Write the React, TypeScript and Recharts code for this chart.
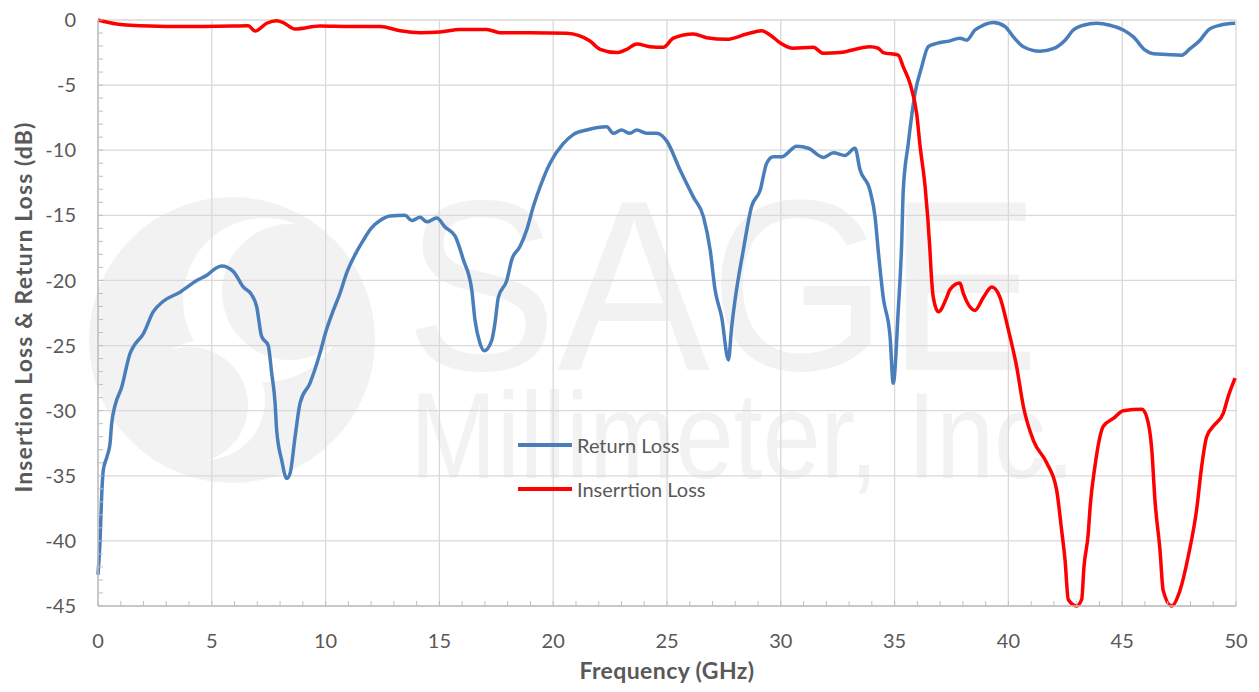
import React from 'react';
import { LineChart, Line, XAxis, YAxis, CartesianGrid, Legend } from 'recharts';

// Return loss (blue)
const returnFreq = [
  0, 0.09, 0.16, 0.23, 0.4, 0.53, 0.6, 0.75, 1.04, 1.41, 1.55, 1.99, 2.43, 2.87, 3.6, 4.34, 4.78, 5.14, 5.43, 5.94,
  6.38, 6.75, 6.97, 7.19, 7.48, 7.63, 7.78, 7.85, 8.07, 8.29, 8.44, 8.66, 8.88, 9.31, 9.75, 10.0, 10.34, 10.63, 10.93,
  11.3, 11.66, 12.0, 12.39, 12.83, 13.49, 13.78, 14.15, 14.44, 14.88, 15.25, 15.69, 16.05, 16.42, 16.56, 16.78, 16.97,
  17.3, 17.44, 17.59, 17.96, 18.18, 18.54, 18.84, 19.13, 19.49, 19.86, 20.44, 20.88, 21.47, 22.35, 22.64, 23.0, 23.37,
  23.67, 24.1, 24.55, 24.99, 25.57, 26.16, 26.6, 26.9, 27.11, 27.4, 27.7, 27.84, 27.99, 28.35, 28.72, 29.09, 29.38,
  29.67, 30.04, 30.7, 31.21, 31.87, 32.31, 32.82, 33.26, 33.48, 33.92, 34.14, 34.28, 34.5, 34.8, 34.94, 35.16, 35.31,
  35.38, 35.6, 35.9, 36.19, 36.48, 36.85, 37.43, 37.87, 38.17, 38.53, 38.9, 39.34, 39.85, 40.22, 40.66, 41.39, 41.97,
  42.49, 42.85, 43.29, 43.88, 44.46, 45.05, 45.49, 46.0, 46.37, 46.95, 47.61, 47.98, 48.42, 48.78, 49.3, 49.96,
];
const returnLoss = [
  -42.6, -40.0, -36.6, -34.6, -33.5, -32.5, -31.0, -29.6, -28.2, -25.6, -25.1, -24.1, -22.4, -21.6, -20.9, -20.0, -19.6,
  -19.1, -18.9, -19.3, -20.5, -21.1, -22.0, -24.3, -25.0, -27.1, -29.4, -31.5, -33.8, -35.2, -34.8, -32.0, -29.4, -27.9,
  -25.6, -24.0, -22.3, -21.0, -19.4, -18.0, -16.9, -16.0, -15.4, -15.05, -15.0, -15.4, -15.15, -15.5, -15.2, -15.9,
  -16.6, -18.4, -20.7, -23.0, -24.8, -25.4, -24.6, -23.3, -21.3, -20.0, -18.4, -17.4, -16.1, -14.3, -12.5, -11.0, -9.5,
  -8.8, -8.45, -8.2, -8.7, -8.45, -8.7, -8.45, -8.7, -8.7, -9.3, -11.5, -13.6, -15.1, -17.7, -20.7, -22.8, -26.1, -23.6,
  -21.5, -17.7, -14.3, -13.1, -11.0, -10.5, -10.5, -9.7, -9.85, -10.55, -10.2, -10.4, -9.85, -11.5, -13.1, -15.1, -17.7,
  -21.3, -24.3, -27.9, -22.3, -17.2, -13.1, -9.5, -5.6, -3.6, -2.05, -1.8, -1.6, -1.4, -1.55, -0.77, -0.4, -0.2, -0.5,
  -1.3, -2.05, -2.4, -2.2, -1.55, -0.77, -0.4, -0.25, -0.4, -0.77, -1.3, -2.3, -2.6, -2.65, -2.7, -2.2, -1.55, -0.77,
  -0.4, -0.25,
];

// Insertion loss (red)
const insertFreq = [
  0, 0.82, 2.28, 3.75, 5.94, 6.6, 6.9, 7.41, 7.85, 8.14, 8.66, 9.75, 11.07, 12.39, 13.27, 14.15, 15.03, 15.9, 17.08,
  17.66, 18.98, 20.59, 21.6, 22.06, 22.79, 23.23, 23.67, 24.25, 24.84, 25.28, 26.16, 26.74, 27.62, 28.5, 29.16, 29.53,
  29.96, 30.55, 31.43, 31.87, 32.6, 33.92, 34.28, 34.5, 35.16, 35.38, 35.68, 35.97, 36.12, 36.34, 36.55, 36.6, 36.7,
  36.92, 37.29, 37.43, 37.87, 38.02, 38.53, 38.9, 39.27, 39.63, 40.0, 40.36, 40.66, 41.1, 41.68, 42.12, 42.34, 42.49,
  42.63, 43.0, 43.22, 43.32, 43.51, 43.59, 43.8, 44.17, 44.61, 45.05, 45.86, 46.08, 46.3, 46.44, 46.66, 46.8, 47.17,
  47.54, 47.9, 48.27, 48.49, 48.71, 49.0, 49.44, 49.66, 49.96,
];
const insertLoss = [
  0, -0.3, -0.46, -0.5, -0.46, -0.44, -0.85, -0.25, -0.05, -0.2, -0.69, -0.46, -0.5, -0.5, -0.82, -0.97, -0.92, -0.72,
  -0.72, -0.97, -0.97, -1.02, -1.6, -2.25, -2.5, -2.25, -1.84, -2.05, -2.1, -1.4, -1.08, -1.36, -1.48, -1.08, -0.82,
  -1.15, -1.74, -2.17, -2.1, -2.56, -2.5, -2.05, -2.17, -2.5, -2.7, -3.6, -4.9, -7.2, -9.7, -12.8, -17.6, -19.2, -21.3,
  -22.4, -21.3, -20.7, -20.2, -21.0, -22.3, -21.3, -20.5, -21.3, -23.8, -26.6, -29.7, -32.3, -34.0, -36.1, -39.2, -41.5,
  -44.5, -45.0, -44.5, -42.0, -39.4, -37.4, -34.3, -31.2, -30.6, -30.0, -29.9, -30.5, -33.0, -36.9, -40.7, -43.8,
  -45.0, -43.8, -41.2, -37.6, -34.3, -32.0, -31.2, -30.2, -28.9, -27.5,
];

const xMajorTicks = [0, 5, 10, 15, 20, 25, 30, 35, 40, 45, 50];
const yMajorTicks = [-45, -40, -35, -30, -25, -20, -15, -10, -5, 0];
// minor tick marks every 1 GHz / 1 dB
const xMinorTicks = Array.from({ length: 51 }, (_, i) => i);
const yMinorTicks = Array.from({ length: 46 }, (_, i) => i - 45);

const returnData = returnFreq.map((f, i) => ({ f, v: returnLoss[i] }));
const insertData = insertFreq.map((f, i) => ({ f, v: insertLoss[i] }));

const TEXT = '#595959';
const FONT = 'Lato, "Open Sans", sans-serif';

const majorOnly = (v: number) => (v % 5 === 0 ? String(v) : '');

const legendItems = [
  { name: 'Return Loss', color: '#4a7ebb' },
  { name: 'Inserrtion Loss', color: '#ff0000' },
];

const LegendBox = () => (
  <div>
    {legendItems.map((it) => (
      <div key={it.name} style={{ display: 'flex', alignItems: 'center', height: 44 }}>
        <div style={{ width: 54, height: 4, background: it.color, marginRight: 5 }} />
        <span style={{ fontFamily: FONT, fontSize: 20, color: TEXT }}>{it.name}</span>
      </div>
    ))}
  </div>
);

// faint company logo behind the plot
const Watermark = () => (
  <svg width={1259} height={692} style={{ position: 'absolute', left: 0, top: 0 }}>
    <circle cx={232} cy={340} r={143} fill="#f2f2f2" />
    <circle cx={265} cy={300} r={82} fill="#ffffff" />
    <circle cx={290} cy={292} r={68} fill="#f2f2f2" />
    <circle cx={205} cy={400} r={60} fill="#ffffff" />
    <circle cx={190} cy={405} r={58} fill="#f2f2f2" />
    <text x={405} y={370} fontSize={244} fontFamily="Liberation Sans, Arial" fill="#f2f2f2"
      textLength={635} lengthAdjust="spacingAndGlyphs">SAGE</text>
    <text x={410} y={478} fontSize={123} fontFamily="Liberation Sans, Arial" fill="#f2f2f2"
      textLength={665} lengthAdjust="spacingAndGlyphs">Millimeter, Inc.</text>
  </svg>
);

export default function App() {
  return (
    <div style={{ position: 'absolute', left: 0, top: 0, width: 1259, height: 692, background: '#fff' }}>
      <Watermark />
      <div style={{ position: 'absolute', left: 0, top: 0 }}>
        <LineChart width={1259} height={692} margin={{ top: 20, right: 23, bottom: 0, left: 0 }}>
          <CartesianGrid
            stroke="#d9d9d9"
            strokeWidth={1.3}
            verticalValues={xMajorTicks}
            horizontalValues={yMajorTicks}
          />
          <XAxis
            dataKey="f"
            type="number"
            domain={[0, 50]}
            ticks={xMinorTicks}
            interval={0}
            height={86}
            tickFormatter={majorOnly}
            tickSize={-5}
            tickMargin={33}
            tickLine={{ stroke: '#bfbfbf' }}
            axisLine={{ stroke: '#bfbfbf', strokeWidth: 1.5 }}
            tick={{ fill: TEXT, fontSize: 20, fontFamily: FONT }}
            label={{ value: 'Frequency (GHz)', position: 'center', dy: 22, fill: TEXT, fontSize: 23, fontWeight: 'bold', fontFamily: FONT, letterSpacing: 0.4 }}
          />
          <YAxis
            type="number"
            domain={[-45, 0]}
            ticks={yMinorTicks}
            interval={0}
            width={98}
            tickFormatter={majorOnly}
            tickSize={-5}
            tickMargin={27}
            tickLine={{ stroke: '#bfbfbf' }}
            axisLine={{ stroke: '#bfbfbf', strokeWidth: 1.5 }}
            tick={{ fill: TEXT, fontSize: 20, fontFamily: FONT }}
            label={{ value: 'Insertion Loss & Return Loss (dB)', angle: -90, position: 'center', dx: -25, dy: -6, fill: TEXT, fontSize: 23, fontWeight: 'bold', fontFamily: FONT, letterSpacing: 1.1 }}
          />
          <Legend
            layout="vertical"
            align="center"
            verticalAlign="middle"
            content={<LegendBox />}
            wrapperStyle={{ position: 'absolute', left: 518, top: 423, width: 260 }}
          />
          <Line
            data={returnData}
            dataKey="v"
            name="Return Loss"
            type="monotone"
            stroke="#4a7ebb"
            strokeWidth={3.5}
            dot={false}
            isAnimationActive={false}
          />
          <Line
            data={insertData}
            dataKey="v"
            name="Inserrtion Loss"
            type="monotone"
            stroke="#ff0000"
            strokeWidth={3.5}
            dot={false}
            isAnimationActive={false}
          />
        </LineChart>
      </div>
    </div>
  );
}
